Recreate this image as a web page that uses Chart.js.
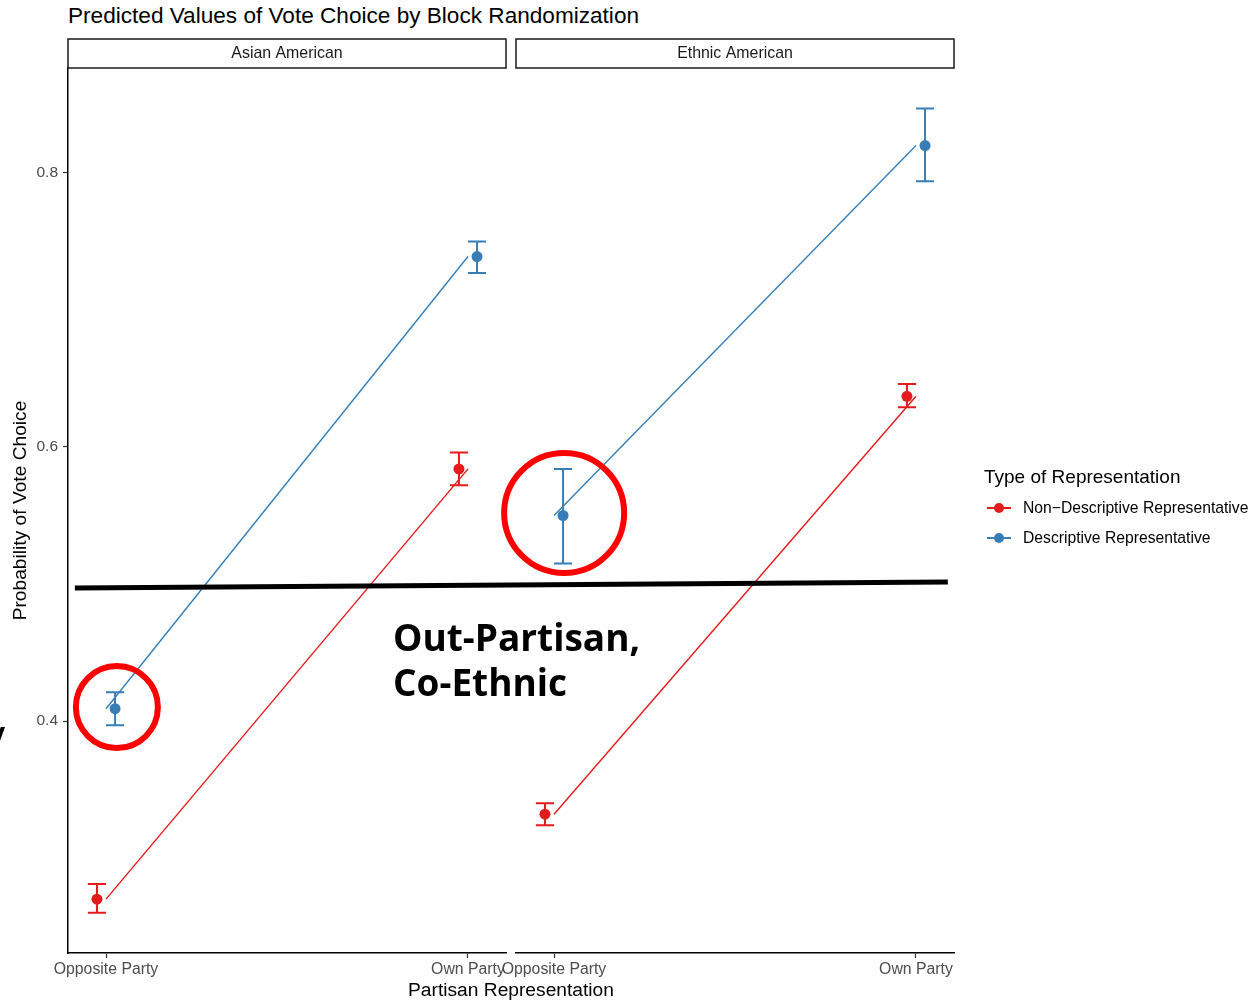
<!DOCTYPE html>
<html>
<head>
<meta charset="utf-8">
<title>Predicted Values of Vote Choice by Block Randomization</title>
<script src="https://cdn.jsdelivr.net/npm/chart.js@4.4.1/dist/chart.umd.min.js"></script>
<style>
    body { margin: 0; width: 1254px; height: 1000px; position: relative; overflow: hidden; background: #fff;
           font-family: "Liberation Sans", Arial, sans-serif; }
    canvas { position: absolute; top: 0; }
    #panel1 { left: 0; }
    #panel2 { left: 490px; }
    #overlay { left: 0; pointer-events: none; }
    .txt { position: absolute; white-space: nowrap; color: #000; }
    #title { left: 68px; top: 2px; font-size: 22.6px; line-height: 28px; }
    #xtitle { left: 311px; width: 400px; text-align: center; top: 978px; font-size: 19.2px; line-height: 24px; }
    #note { left: 393px; top: 614px; font: bold 37px/45px "Open Sans", "Noto Sans", sans-serif; }
    #stray { left: -8px; top: 718px; font: bold 32px/40px "Open Sans", sans-serif; }
    #legend { position: absolute; left: 984px; top: 465px; }
    #legend .lt { font-size: 19px; line-height: 24px; margin-bottom: 9px; }
    #legend .li { position: relative; height: 30px; line-height: 20px; font-size: 15.7px; padding-left: 39px; }
    #legend .key { position: absolute; left: 3px; top: 9px; width: 24px; height: 2px; }
    #legend .dot { position: absolute; left: 7px; top: -4px; width: 10px; height: 10px; border-radius: 50%; }
</style>
</head>
<body>
<div class="txt" id="title">Predicted Values of Vote Choice by Block Randomization</div>
<canvas id="panel1" width="512" height="1000"></canvas>
<canvas id="panel2" width="764" height="1000"></canvas>
<canvas id="overlay" width="1254" height="1000"></canvas>
<div class="txt" id="xtitle">Partisan Representation</div>
<div class="txt" id="note">Out-Partisan,<br>Co-Ethnic</div>
<div class="txt" id="stray">/</div>
<div id="legend"></div>

<script>
// Data
const categories = ['Opposite Party', 'Own Party'];
const panels = ['Asian American', 'Ethnic American'];
const seriesNames = ['Non\u2212Descriptive Representative', 'Descriptive Representative'];
const seriesColors = ['#E41A1C', '#377EB8'];
const yTicks = [0.4, 0.6, 0.8];
const yMin = 0.2307;
const yMax = 0.8766;

// Asian American
const asianNonDesc = [0.270, 0.584];
const asianNonDescLo = [0.260, 0.572];
const asianNonDescHi = [0.281, 0.596];
const asianDesc = [0.409, 0.739];
const asianDescLo = [0.397, 0.727];
const asianDescHi = [0.421, 0.750];

// Ethnic American
const ethnicNonDesc = [0.332, 0.637];
const ethnicNonDescLo = [0.324, 0.629];
const ethnicNonDescHi = [0.340, 0.646];
const ethnicDesc = [0.550, 0.820];
const ethnicDescLo = [0.515, 0.794];
const ethnicDescHi = [0.584, 0.847];

const dodge = 0.025;
const FONT = '"Liberation Sans", Arial, sans-serif';

// Draws error bars for one panel
function errorBarPlugin(bars) {
    return {
        id: 'errorBars',
        beforeDatasetsDraw: function(chart) {
            const ctx = chart.ctx;
            const xs = chart.scales.x;
            const ys = chart.scales.y;
            ctx.save();
            bars.forEach(function(b) {
                ctx.strokeStyle = b.color;
                ctx.lineWidth = 2;
                b.lo.forEach(function(lo, i) {
                    const x = xs.getPixelForValue(i + 1 + b.shift);
                    const x0 = xs.getPixelForValue(i + 1 + b.shift - dodge);
                    const x1 = xs.getPixelForValue(i + 1 + b.shift + dodge);
                    const yLo = ys.getPixelForValue(lo);
                    const yHi = ys.getPixelForValue(b.hi[i]);
                    ctx.beginPath();
                    ctx.moveTo(x, yLo); ctx.lineTo(x, yHi);
                    ctx.moveTo(x0, yLo); ctx.lineTo(x1, yLo);
                    ctx.moveTo(x0, yHi); ctx.lineTo(x1, yHi);
                    ctx.stroke();
                });
            });
            ctx.restore();
        }
    };
}

// Strip label box above the panel
function stripPlugin(label) {
    return {
        id: 'strip',
        afterDraw: function(chart) {
            const ctx = chart.ctx;
            const a = chart.chartArea;
            ctx.save();
            ctx.strokeStyle = '#1a1a1a';
            ctx.lineWidth = 1.5;
            ctx.strokeRect(a.left, a.top - 29, a.right - a.left, 29);
            ctx.fillStyle = '#1a1a1a';
            ctx.font = '15.9px ' + FONT;
            ctx.textAlign = 'center';
            ctx.textBaseline = 'middle';
            ctx.fillText(label, (a.left + a.right) / 2, a.top - 14);
            ctx.restore();
        }
    };
}

// Red highlight circle around a point
function circlePlugin(c) {
    return {
        id: 'highlight',
        afterDraw: function(chart) {
            const ctx = chart.ctx;
            ctx.save();
            ctx.strokeStyle = '#FF0000';
            ctx.lineWidth = 6;
            ctx.beginPath();
            ctx.arc(chart.scales.x.getPixelForValue(c.x), chart.scales.y.getPixelForValue(c.y), c.r, 0, Math.PI * 2);
            ctx.stroke();
            ctx.restore();
        }
    };
}

function makePanel(canvasId, label, nonDesc, nonDescLo, nonDescHi, desc, descLo, descHi, showY, padding, circle) {
    const lineData = function(vals) { return vals.map(function(v, i) { return { x: i + 1, y: v }; }); };
    const pointData = function(vals, shift) { return vals.map(function(v, i) { return { x: i + 1 + shift, y: v }; }); };

    return new Chart(document.getElementById(canvasId), {
        type: 'scatter',
        data: {
            datasets: [
                { label: seriesNames[0], data: lineData(nonDesc), showLine: true, borderColor: seriesColors[0], borderWidth: 1.4, pointRadius: 0 },
                { label: seriesNames[1], data: lineData(desc), showLine: true, borderColor: seriesColors[1], borderWidth: 1.4, pointRadius: 0 },
                { label: seriesNames[0], data: pointData(nonDesc, -dodge), showLine: false, pointRadius: 5.5, pointBorderWidth: 0, backgroundColor: seriesColors[0] },
                { label: seriesNames[1], data: pointData(desc, dodge), showLine: false, pointRadius: 5.5, pointBorderWidth: 0, backgroundColor: seriesColors[1] }
            ]
        },
        options: {
            responsive: false,
            animation: false,
            layout: { padding: padding },
            plugins: { legend: { display: false }, tooltip: { enabled: false } },
            scales: {
                x: {
                    type: 'linear',
                    min: 0.895,
                    max: 2.105,
                    afterBuildTicks: function(scale) { scale.ticks = categories.map(function(c, i) { return { value: i + 1 }; }); },
                    afterFit: function(scale) { scale.height = 30; },
                    ticks: {
                        callback: function(v) { return categories[v - 1]; },
                        color: '#4D4D4D', font: { size: 15.8, family: FONT }, padding: 2, maxRotation: 0, autoSkip: false
                    },
                    grid: { drawOnChartArea: false, drawTicks: true, tickLength: 5, tickColor: '#333', tickWidth: 1.2 },
                    border: { display: true, color: '#000', width: 1.5 }
                },
                y: {
                    display: showY,
                    min: yMin,
                    max: yMax,
                    afterBuildTicks: function(scale) { scale.ticks = yTicks.map(function(v) { return { value: v }; }); },
                    afterFit: function(scale) { if (showY) scale.width = 68; },
                    ticks: {
                        callback: function(v) { return v.toFixed(1); },
                        color: '#4D4D4D', font: { size: 15.5, family: FONT }, padding: 5
                    },
                    grid: { drawOnChartArea: false, drawTicks: true, tickLength: 5, tickColor: '#333', tickWidth: 1.2 },
                    border: { display: true, color: '#000', width: 1.5 },
                    title: { display: true, text: 'Probability of Vote Choice', color: '#000', font: { size: 19.2, family: FONT }, padding: { top: 9, bottom: 0 } }
                }
            }
        },
        plugins: [
            errorBarPlugin([
                { lo: nonDescLo, hi: nonDescHi, shift: -dodge, color: seriesColors[0] },
                { lo: descLo, hi: descHi, shift: dodge, color: seriesColors[1] }
            ]),
            stripPlugin(label),
            circlePlugin(circle)
        ]
    });
}

const chart1 = makePanel('panel1', panels[0], asianNonDesc, asianNonDescLo, asianNonDescHi,
    asianDesc, asianDescLo, asianDescHi, true, { top: 68, right: 6, bottom: 17, left: 0 },
    { x: 1.03, y: 0.4102, r: 41 });
const chart2 = makePanel('panel2', panels[1], ethnicNonDesc, ethnicNonDescLo, ethnicNonDescHi,
    ethnicDesc, ethnicDescLo, ethnicDescHi, false, { top: 68, right: 300, bottom: 17, left: 26 },
    { x: 1.028, y: 0.5518, r: 60 });

// Hand-drawn threshold line across both panels
const ctx = document.getElementById('overlay').getContext('2d');
ctx.strokeStyle = '#000';
ctx.lineWidth = 5;
ctx.beginPath();
ctx.moveTo(chart1.scales.x.getPixelForValue(0.914), chart1.scales.y.getPixelForValue(0.497));
ctx.lineTo(490 + chart2.scales.x.getPixelForValue(2.088), chart2.scales.y.getPixelForValue(0.5015));
ctx.stroke();

// Legend
const legend = document.getElementById('legend');
let html = '<div class="lt">Type of Representation</div>';
seriesNames.forEach(function(name, i) {
    html += '<div class="li"><span class="key" style="background:' + seriesColors[i] + '">' +
        '<span class="dot" style="background:' + seriesColors[i] + '"></span></span>' + name + '</div>';
});
legend.innerHTML = html;
</script>
</body>
</html>
